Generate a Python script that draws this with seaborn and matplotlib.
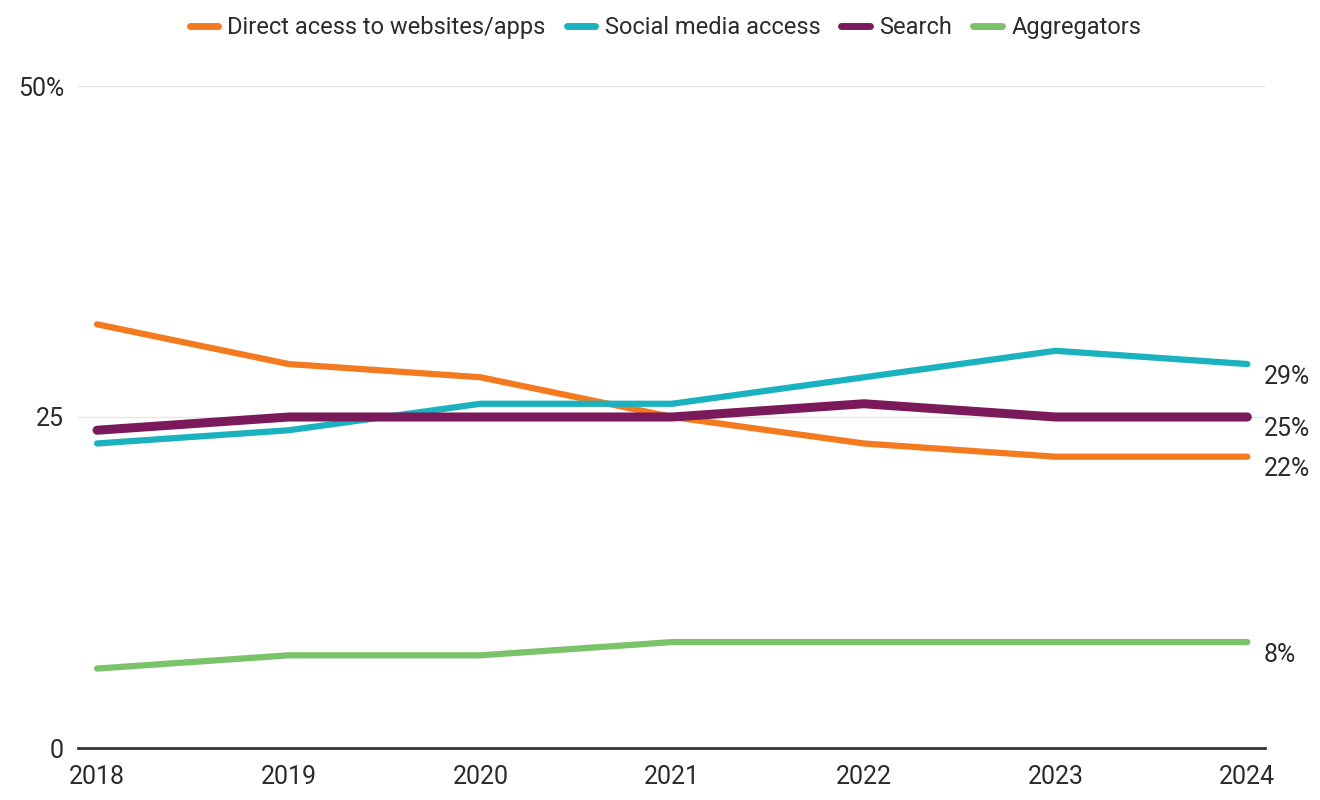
import pandas as pd
import matplotlib
matplotlib.use("Agg")
import matplotlib.pyplot as plt
from matplotlib.lines import Line2D
import seaborn as sns

# dados
anos = [2018, 2019, 2020, 2021, 2022, 2023, 2024]
direto = [32, 29, 28, 25, 23, 22, 22]
social = [23, 24, 26, 26, 28, 30, 29]
busca = [24, 25, 25, 25, 26, 25, 25]
agregadores = [6, 7, 7, 8, 8, 8, 8]

series = ["Direct acess to websites/apps", "Social media access", "Search", "Aggregators"]
cores = ["#f47a1f", "#1ab2bf", "#7b1a5b", "#7ac36a"]
larguras = [4.5, 4.5, 6.5, 4.5]
rotulos_fim = ["22%", "29%", "25%", "8%"]

df = pd.DataFrame({
    "ano": anos * 4,
    "valor": direto + social + busca + agregadores,
    "serie": sum([[s] * len(anos) for s in series], []),
})

sns.set_style("white")
plt.rcParams["font.family"] = ["Roboto", "DejaVu Sans"]

fig = plt.figure(figsize=(13.2, 8), dpi=100)
ax = fig.add_axes([0.059, 0.065, 0.899, 0.8275])

sns.lineplot(data=df, x="ano", y="valor", hue="serie", hue_order=series,
             palette=cores, ax=ax, legend=False)

for linha, lw in zip(ax.get_lines(), larguras):
    linha.set_linewidth(lw)
    linha.set_solid_capstyle("round")
    linha.set_solid_joinstyle("round")
    linha.set_clip_on(False)

# rótulos no fim das linhas
for s, r in zip(series, rotulos_fim):
    v = df[(df.serie == s) & (df.ano == anos[-1])].valor.iloc[0]
    ax.annotate(r, xy=(anos[-1], v), xytext=(12, -9), textcoords="offset points",
                ha="left", va="center", fontsize=18, color="#2b2b2b",
                annotation_clip=False)

ax.set_xlim(2017.9, 2024.09)
ax.set_ylim(0, 50)
ax.set_yticks([0, 25, 50])
ax.set_yticklabels(["0", "25", "50%"])
ax.set_xticks(anos)
ax.set_xticklabels([str(a) for a in anos])
ax.set_xlabel("")
ax.set_ylabel("")

for y in [25, 50]:
    ax.axhline(y, color="#e6e6e6", lw=1, zorder=0)

for lado in ["top", "right", "left"]:
    ax.spines[lado].set_visible(False)
ax.spines["bottom"].set_color("#333333")
ax.spines["bottom"].set_linewidth(2)

ax.tick_params(axis="x", direction="out", length=7, width=1, color="#333333",
               labelsize=18, labelcolor="#2b2b2b", pad=5)
ax.tick_params(axis="y", length=0, labelsize=18, labelcolor="#2b2b2b", pad=10)

# legenda no topo
handles = [Line2D([0], [0], color=c, lw=5, solid_capstyle="round") for c in cores]
fig.legend(handles, series, loc="upper center", bbox_to_anchor=(0.504, 1.006), ncol=4,
           frameon=False, fontsize=17, handlelength=1.2, handletextpad=0.4,
           columnspacing=0.9, labelcolor="#2b2b2b")

fig.savefig("out.png", dpi=100)
